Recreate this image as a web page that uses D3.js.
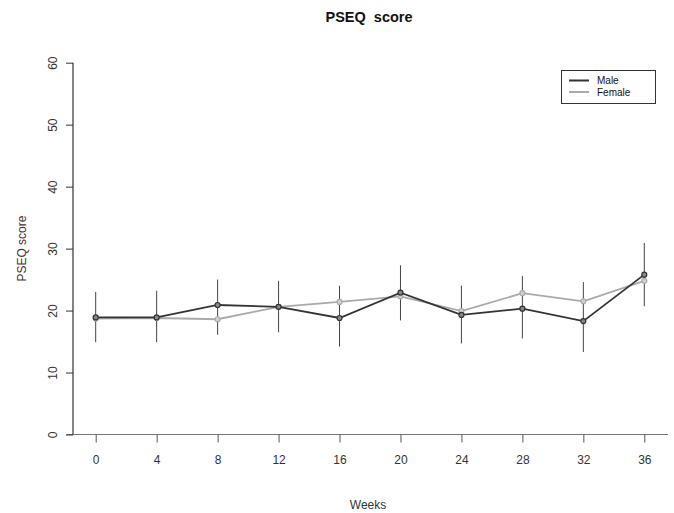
<!DOCTYPE html>
<html>
<head>
<meta charset="utf-8">
<script src="https://cdn.jsdelivr.net/npm/d3@7"></script>
<style>
  html, body { margin: 0; padding: 0; background: #fff; }
  svg { display: block; font-family: "Liberation Sans", Arial, sans-serif; }
</style>
</head>
<body>
<div id="chart"></div>
<script>
// PSEQ score by week, male vs female, with per-week error bars
const weeks = [0, 4, 8, 12, 16, 20, 24, 28, 32, 36];
const maleScores = [18.9, 18.9, 20.9, 20.6, 18.8, 22.9, 19.3, 20.3, 18.3, 25.8];
const femaleScores = [18.7, 18.8, 18.6, 20.6, 21.4, 22.3, 19.9, 22.8, 21.5, 24.8];
const barLower = [14.9, 14.9, 16.1, 16.5, 14.2, 18.4, 14.7, 15.5, 13.3, 20.7];
const barUpper = [23.0, 23.2, 25.0, 24.8, 24.0, 27.3, 24.0, 25.6, 24.6, 30.9];
const yTicks = [0, 10, 20, 30, 40, 50, 60];
const seriesNames = ["Male", "Female"];

const W = 674, H = 513;
const plot = { left: 73, right: 668, top: 62.7, bottom: 434.5 };

const svg = d3.select("#chart").append("svg")
  .attr("width", W).attr("height", H);

const x = d3.scaleLinear().domain([0, 36]).range([95.7, 644.3]);
const y = d3.scaleLinear().domain([0, 60]).range([plot.bottom, plot.top]);

const colors = { Male: "#333333", Female: "#aaaaaa" };

// Title
svg.append("text")
  .attr("x", 369).attr("y", 22)
  .attr("text-anchor", "middle")
  .attr("font-weight", "bold")
  .attr("font-size", 14.5)
  .attr("fill", "#111")
  .style("white-space", "pre")
  .text("PSEQ  score");

// Bottom baseline spanning the plot region
svg.append("line")
  .attr("x1", plot.left - 6.5).attr("x2", plot.right)
  .attr("y1", plot.bottom).attr("y2", plot.bottom)
  .attr("stroke", "#777").attr("stroke-width", 1.2);

// X axis
const xAxis = svg.append("g")
  .attr("transform", `translate(0,${plot.bottom})`)
  .call(d3.axisBottom(x).tickValues(weeks).tickSize(8).tickSizeOuter(0).tickFormat(d3.format("d")));
xAxis.select(".domain").remove();
xAxis.selectAll(".tick line").attr("stroke", "#555");
xAxis.selectAll(".tick text")
  .attr("y", 21).attr("dy", "0.71em")
  .attr("font-size", 12).attr("fill", "#333")
  .attr("font-family", "Liberation Sans, Arial, sans-serif");

// Y axis
const yAxis = svg.append("g")
  .attr("transform", `translate(${plot.left},0)`)
  .call(d3.axisLeft(y).tickValues(yTicks).tickSize(7).tickSizeOuter(0));
yAxis.select(".domain").attr("stroke", "#333").attr("stroke-width", 1.2)
  .attr("d", `M0,${plot.top}V${plot.bottom}`);
yAxis.selectAll(".tick line").attr("stroke", "#333");
yAxis.selectAll(".tick text")
  .attr("x", null).attr("dy", null)
  .attr("transform", "translate(-16.5,0) rotate(-90)")
  .attr("text-anchor", "middle")
  .attr("font-size", 12).attr("fill", "#333")
  .attr("font-family", "Liberation Sans, Arial, sans-serif");

// Axis titles
svg.append("text")
  .attr("transform", `translate(26,${(plot.top + plot.bottom) / 2}) rotate(-90)`)
  .attr("text-anchor", "middle")
  .attr("font-size", 12)
  .attr("fill", "#4a3030")
  .text("PSEQ score");

svg.append("text")
  .attr("x", 368).attr("y", 509)
  .attr("text-anchor", "middle")
  .attr("font-size", 12)
  .attr("fill", "#333")
  .text("Weeks");

// Error bars
svg.append("g").selectAll("line")
  .data(weeks.map((w, i) => ({ w, lo: barLower[i], hi: barUpper[i] })))
  .join("line")
  .attr("x1", d => x(d.w)).attr("x2", d => x(d.w))
  .attr("y1", d => y(d.lo)).attr("y2", d => y(d.hi))
  .attr("stroke", "#444").attr("stroke-width", 1);

// Series lines and markers
const series = [
  { name: "Male", values: maleScores },
  { name: "Female", values: femaleScores }
];
const line = d3.line().x(d => x(d.w)).y(d => y(d.v));

// draw female first so the male line sits on top
[series[1], series[0]].forEach(s => {
  const pts = weeks.map((w, i) => ({ w, v: s.values[i] }));
  svg.append("path")
    .datum(pts)
    .attr("d", line)
    .attr("fill", "none")
    .attr("stroke", colors[s.name])
    .attr("stroke-width", 1.8);
  svg.append("g").selectAll("circle")
    .data(pts)
    .join("circle")
    .attr("cx", d => x(d.w)).attr("cy", d => y(d.v))
    .attr("r", 2.5)
    .attr("fill", s.name === "Male" ? "#888" : "#d0d0d0")
    .attr("stroke", colors[s.name])
    .attr("stroke-width", 1.2);
});

// Legend
const lg = svg.append("g");
lg.append("rect")
  .attr("x", 561.5).attr("y", 70.5).attr("width", 94).attr("height", 33)
  .attr("fill", "#fff").attr("stroke", "#333").attr("stroke-width", 1);
seriesNames.forEach((name, i) => {
  const ly = 80.5 + i * 11.5;
  lg.append("line")
    .attr("x1", 569).attr("x2", 589).attr("y1", ly).attr("y2", ly)
    .attr("stroke", colors[name]).attr("stroke-width", 2);
  lg.append("text")
    .attr("x", 597).attr("y", ly + 3.5)
    .attr("font-size", 10).attr("fill", "#111")
    .text(name);
});
</script>
</body>
</html>
